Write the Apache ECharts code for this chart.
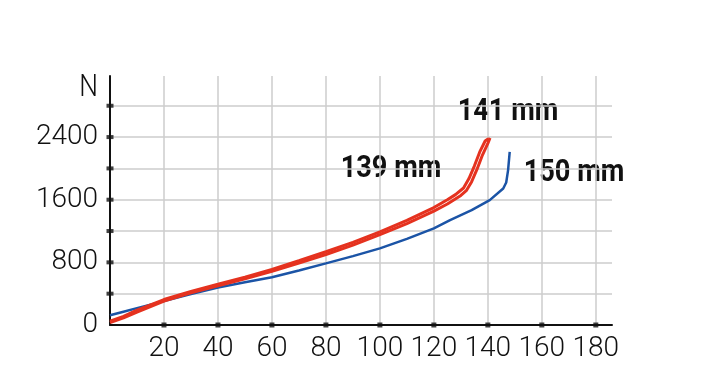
<!DOCTYPE html>
<html>
<head>
<meta charset="utf-8">
<script src="https://cdn.jsdelivr.net/npm/echarts@6/dist/echarts.min.js"></script>
<style>html,body{margin:0;padding:0;background:#fff}#c{width:712px;height:386px}</style>
</head>
<body>
<div id="c"></div>
<script>
// x-tick values and y-tick values
var xTicks = [20, 40, 60, 80, 100, 120, 140, 160, 180];
var yTicks = [400, 800, 1200, 1600, 2000, 2400, 2800];
var yLabelValues = [0, 800, 1600, 2400];

// 150 mm (blue)
var blueX = [0, 5, 10, 20, 30, 40, 50, 60, 70, 80, 90, 100, 110, 120, 126, 134, 140.7, 145.7, 146.8, 147.5, 148.1];
var blueY = [125, 170, 215, 305, 395, 480, 545, 610, 695, 787, 880, 979, 1100, 1234, 1340, 1467, 1595, 1744, 1820, 1978, 2211];

// 141 mm (red, right strand)
var red141X = [0, 5, 10, 20, 30, 40, 50, 60, 70, 80, 90, 100, 110, 120, 125, 130, 132, 134, 136, 138, 140, 140.8];
var red141Y = [30, 90, 165, 305, 410, 500, 590, 685, 790, 900, 1020, 1155, 1295, 1455, 1545, 1655, 1715, 1830, 1990, 2170, 2320, 2390];

// 139 mm (red, left strand)
var red139X = [0, 5, 10, 20, 30, 40, 50, 60, 70, 80, 90, 100, 110, 120, 125, 128, 131, 133, 135, 137, 139, 140.2];
var red139Y = [50, 110, 190, 325, 430, 520, 612, 710, 820, 935, 1055, 1190, 1335, 1500, 1600, 1665, 1750, 1870, 2030, 2210, 2350, 2380];

function pairs(xs, ys) { return xs.map(function (x, i) { return [x, ys[i]]; }); }

var chart = echarts.init(document.getElementById('c'), null, {renderer: 'canvas'});
var labelFont = 'Roboto, "DejaVu Sans Condensed", sans-serif';
chart.setOption({
  animation: false,
  backgroundColor: '#fff',
  grid: {left: 110, right: 100, top: 76, bottom: 61},
  xAxis: {
    type: 'value', min: 0, max: 186, interval: 20,
    axisLine: {show: true, onZero: false, lineStyle: {color: '#111', width: 2}},
    axisTick: {show: false},
    splitLine: {show: true, showMinLine: false, showMaxLine: false, lineStyle: {color: '#cccccc', width: 1.5}},
    axisLabel: {
      margin: 10, fontFamily: labelFont, fontWeight: 300, fontSize: 28, color: '#111',
      formatter: function (v) { return xTicks.indexOf(v) >= 0 ? String(v) : ''; }
    }
  },
  yAxis: {
    type: 'value', min: 0, max: 3180, interval: 400,
    axisLine: {show: true, onZero: false, lineStyle: {color: '#111', width: 2}},
    axisTick: {show: false},
    splitLine: {show: true, showMinLine: false, showMaxLine: false, lineStyle: {color: '#cccccc', width: 1.5}},
    axisLabel: {
      margin: 12, fontFamily: labelFont, fontWeight: 300, fontSize: 28, color: '#111',
      formatter: function (v) { return yLabelValues.indexOf(v) >= 0 ? String(v) : ''; }
    }
  },
  graphic: [
    {type: 'text', x: 98, y: 88, scaleX: 0.85,
     style: {text: 'N', font: '300 31px ' + labelFont, fill: '#111', align: 'right', verticalAlign: 'middle'}},
    {type: 'text', x: 508, y: 111.5, scaleX: 0.85,
     style: {text: '141 mm', font: 'bold 32px ' + labelFont, fill: '#111', align: 'center', verticalAlign: 'middle'}},
    {type: 'text', x: 391, y: 168.5, scaleX: 0.85,
     style: {text: '139 mm', font: 'bold 32px ' + labelFont, fill: '#111', align: 'center', verticalAlign: 'middle'}},
    {type: 'text', x: 574, y: 172.5, scaleX: 0.85,
     style: {text: '150 mm', font: 'bold 32px ' + labelFont, fill: '#111', align: 'center', verticalAlign: 'middle'}}
  ],
  series: [
    {type: 'line', name: '150 mm', data: pairs(blueX, blueY), showSymbol: false, smooth: false,
     lineStyle: {color: '#1b54a6', width: 2.5}, z: 3},
    {type: 'line', name: '141 mm', data: pairs(red141X, red141Y), showSymbol: false, smooth: false,
     lineStyle: {color: '#e5321f', width: 3}, z: 4},
    {type: 'line', name: '139 mm', data: pairs(red139X, red139Y), showSymbol: false, smooth: false,
     lineStyle: {color: '#e5321f', width: 3}, z: 4},
    {type: 'scatter', data: xTicks.map(function (v) { return [v, 0]; }), symbol: 'rect', symbolSize: [5, 5],
     itemStyle: {color: '#111'}, clip: false, silent: true, z: 6},
    {type: 'scatter', data: yTicks.map(function (v) { return [0, v]; }), symbol: 'rect', symbolSize: [7, 4],
     itemStyle: {color: '#111'}, clip: false, silent: true, z: 6}
  ]
});
</script>
</body>
</html>
